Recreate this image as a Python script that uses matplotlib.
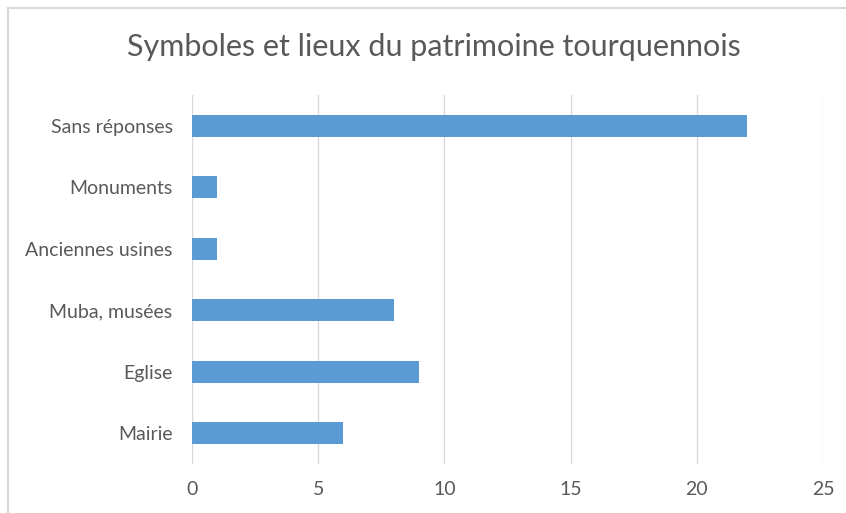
import matplotlib
matplotlib.use("Agg")
import matplotlib.pyplot as plt
from matplotlib.lines import Line2D

categories = ["Mairie", "Eglise", "Muba, musées", "Anciennes usines", "Monuments", "Sans réponses"]
values = [6, 9, 8, 1, 1, 22]
xticks = [0, 5, 10, 15, 20, 25]
title = "Symboles et lieux du patrimoine tourquennois"

plt.rcParams['font.family'] = ['Lato', 'DejaVu Sans']
W, H = 846, 513
fig = plt.figure(figsize=(W/100, H/100), dpi=100)
ax = fig.add_axes([192/W, 1-464/H, (823-192)/W, (464-95)/H])

ax.barh(range(len(categories)), values, height=0.35, color="#5B9BD5", zorder=3)
ax.set_ylim(-0.5, len(categories)-0.5)
ax.set_xlim(0, 25)
ax.set_xticks(xticks)
ax.set_yticks(range(len(categories)))
ax.set_yticklabels(categories)
ax.grid(axis='x', color='#d9d9d9', linewidth=1.0, zorder=0)
for s in ax.spines.values():
    s.set_visible(False)
ax.tick_params(axis='both', length=0, colors='#595959', labelsize=14)
ax.tick_params(axis='y', pad=14)
ax.tick_params(axis='x', pad=12)

fig.text(0.5 * (125+742)/W, 1-47/H, title, ha='center', va='center', fontsize=22, color='#595959')

# chart border (left and top visible)
fig.add_artist(Line2D([8/W, 8/W], [0, 1-8/H], color='#d9d9d9', linewidth=1.5, transform=fig.transFigure))
fig.add_artist(Line2D([8/W, 1], [1-8/H, 1-8/H], color='#d9d9d9', linewidth=1.5, transform=fig.transFigure))

fig.savefig("out.png", dpi=100)
